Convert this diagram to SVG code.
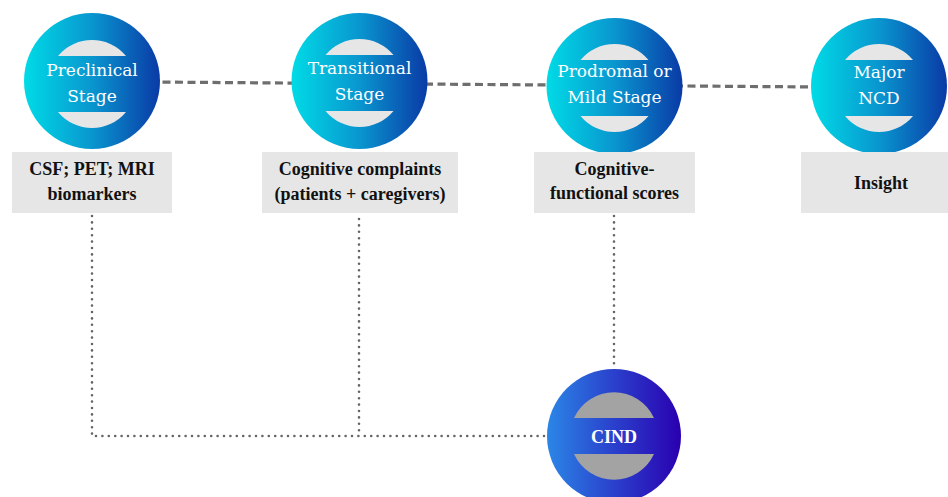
<svg xmlns="http://www.w3.org/2000/svg" width="948" height="497" viewBox="0 0 948 497">
<style>
.stage{font-family:"DejaVu Serif","Liberation Serif",serif;font-size:17px;fill:#fff;text-anchor:middle}
.box{fill:#e6e6e6}
.bt{font-family:"Liberation Serif","DejaVu Serif",serif;font-size:18px;font-weight:bold;fill:#111;text-anchor:middle}
.dash{fill:none;stroke:#6e6e6e;stroke-width:3.2;stroke-dasharray:8 4.5}
.dot{fill:none;stroke:#666;stroke-width:2.6;stroke-linecap:round;stroke-dasharray:0 6.4}
.cap{fill:#e6e6e6}
.capg{fill:#a3a3a3}
</style>
<defs>
<linearGradient id="gTop" x1="0" y1="0" x2="1" y2="0">
<stop offset="0" stop-color="#00dbe6"/>
<stop offset="0.5" stop-color="#0996cf"/>
<stop offset="1" stop-color="#0a3aa6"/>
</linearGradient>
<linearGradient id="gCind" x1="0" y1="0" x2="1" y2="0">
<stop offset="0" stop-color="#2b86e6"/>
<stop offset="0.5" stop-color="#2a40cc"/>
<stop offset="1" stop-color="#2a00b0"/>
</linearGradient>
<path id="caps" d="M-34 -28 A44 44 0 0 1 34 -28 Z M-34 28 A44 44 0 0 0 34 28 Z"/>
<path id="capsC" d="M-40 -18 A44 44 0 0 1 40 -18 Z M-40 18 A44 44 0 0 0 40 18 Z"/>
</defs>
<rect width="948" height="497" fill="#fff"/>
<g id="connectors">
<path class="dash" d="M150 82 L820 87"/>
<path class="dot" d="M92 216 V436 H548"/>
<path class="dot" d="M359 219 V436"/>
<path class="dot" d="M614 216 V369"/>
</g>
<g id="preclinical">
<circle cx="92" cy="81" r="68" fill="url(#gTop)"/>
<use href="#caps" x="92" y="84" class="cap"/>
<text class="stage" x="92" y="76">Preclinical</text>
<text class="stage" x="92" y="102">Stage</text>
</g>
<g id="transitional">
<circle cx="359.5" cy="81" r="68" fill="url(#gTop)"/>
<use href="#caps" x="359.5" y="83" class="cap"/>
<text class="stage" x="359.5" y="74">Transitional</text>
<text class="stage" x="359.5" y="100">Stage</text>
</g>
<g id="prodromal">
<circle cx="614.5" cy="86" r="68" fill="url(#gTop)"/>
<use href="#caps" x="614.5" y="88" class="cap"/>
<text class="stage" x="614.5" y="77">Prodromal or</text>
<text class="stage" x="614.5" y="103">Mild Stage</text>
</g>
<g id="major">
<circle cx="879" cy="86" r="68" fill="url(#gTop)"/>
<use href="#caps" x="879" y="88" class="cap"/>
<text class="stage" x="879" y="78">Major</text>
<text class="stage" x="879" y="104">NCD</text>
</g>
<g id="box-biomarkers">
<rect class="box" x="12" y="152" width="160" height="61"/>
<text class="bt" x="92" y="175">CSF; PET; MRI</text>
<text class="bt" x="92" y="200">biomarkers</text>
</g>
<g id="box-complaints">
<rect class="box" x="262" y="152" width="196" height="61"/>
<text class="bt" x="360" y="175">Cognitive complaints</text>
<text class="bt" x="360" y="200">(patients + caregivers)</text>
</g>
<g id="box-scores">
<rect class="box" x="534" y="152" width="161" height="61"/>
<text class="bt" x="614.5" y="175">Cognitive-</text>
<text class="bt" x="614.5" y="199">functional scores</text>
</g>
<g id="box-insight">
<rect class="box" x="801" y="152" width="147" height="61"/>
<text class="bt" x="881" y="189">Insight</text>
</g>
<g id="cind">
<circle cx="614" cy="436" r="67" fill="url(#gCind)"/>
<use href="#capsC" x="614" y="436" class="capg"/>
<text class="bt" x="614" y="443" style="fill:#fff">CIND</text>
</g>
</svg>
